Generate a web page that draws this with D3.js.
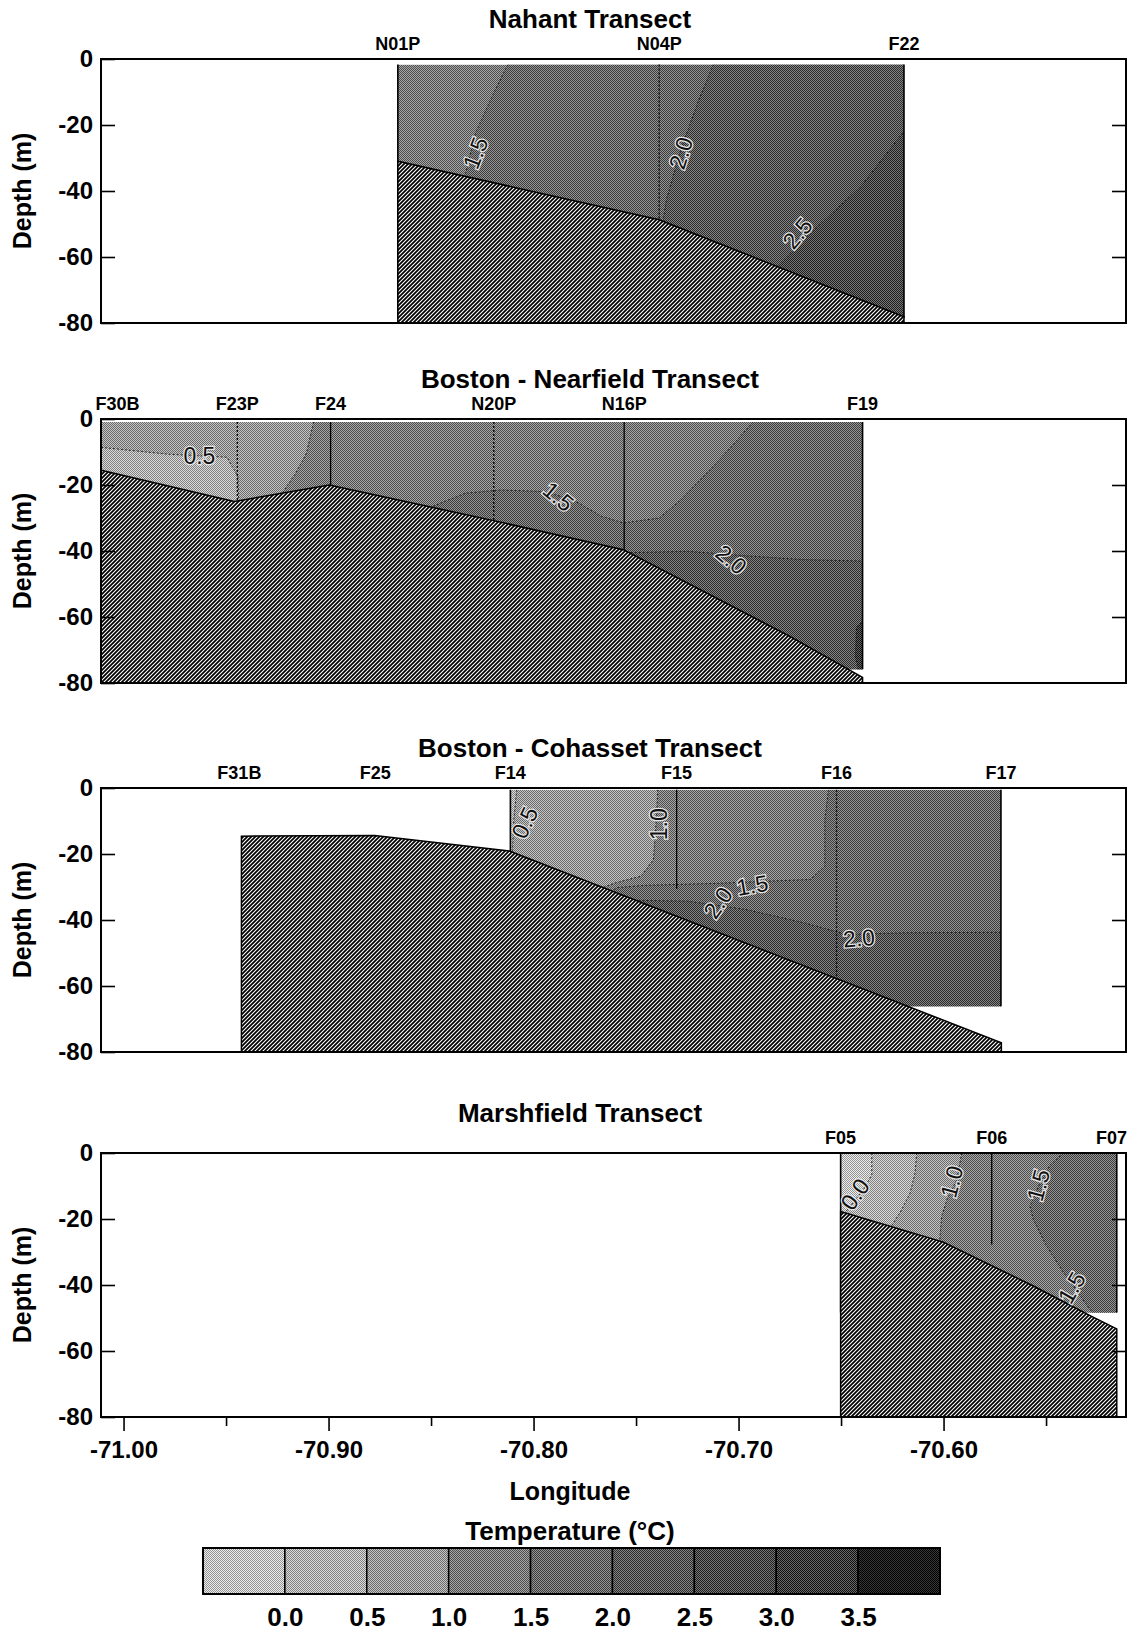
<!DOCTYPE html>
<html>
<head>
<meta charset="utf-8">
<script src="https://cdn.jsdelivr.net/npm/d3@7"></script>
<style>
  body { margin: 0; background: #fff; }
  svg { display: block; font-family: "Liberation Sans", Arial, sans-serif; }
</style>
</head>
<body>
<svg id="chart" width="1128" height="1633"></svg>
<script>
// ---- values ----
const lonTicks = [-71.0, -70.9, -70.8, -70.7, -70.6];
const lonMinorTicks = [-70.95, -70.85, -70.75, -70.65, -70.55];
const depthTicks = [0, -20, -40, -60, -80];
const tempBreaks = [0.0, 0.5, 1.0, 1.5, 2.0, 2.5, 3.0, 3.5];

const transectTitles = ['Nahant Transect', 'Boston - Nearfield Transect', 'Boston - Cohasset Transect', 'Marshfield Transect'];
// temperature of the water not split off by any contour
const baseTemps = [1.25, 0.75, 0.75, -0.25];

// stations: name, longitude, depth of the drawn profile line (null = none)
const nahantStations = [['N01P', -70.8662, null], ['N04P', -70.7387, -49.0], ['F22', -70.6193, null]];
const nearfieldStations = [['F30B', -71.003, null], ['F23P', -70.9445, -25.0], ['F24', -70.899, -24.0],
  ['N20P', -70.8194, -31.0], ['N16P', -70.7558, -40.0], ['F19', -70.6395, null]];
const cohassetStations = [['F31B', -70.9435, null], ['F25', -70.8772, null], ['F14', -70.8113, null],
  ['F15', -70.7302, -30.6], ['F16', -70.6522, -59.0], ['F17', -70.5720, null]];
const marshfieldStations = [['F05', -70.6502, null], ['F06', -70.5765, -27.7], ['F07', -70.5155, null]];

// sampled water: lon min, lon max, top depth, bottom depth
const nahantExtent = [-70.8662, -70.6193, -1.7, -78.5];
const nearfieldExtent = [-71.011, -70.6395, -0.9, -75.8];
const cohassetExtent = [-70.8113, -70.5720, -0.5, -66.1];
const marshfieldExtent = [-70.6502, -70.5155, 0, -48.3];

// sea floor profile [lon, depth]
const nahantBathy = [[-70.8662, -31.0], [-70.7387, -48.7], [-70.6193, -78.1]];
const nearfieldBathy = [[-71.011, -15.5], [-70.9460, -25.0], [-70.8996, -20.0], [-70.8195, -30.8],
  [-70.7562, -39.6], [-70.6754, -65.7], [-70.6395, -78.3]];
const cohassetBathy = [[-70.9425, -14.6], [-70.8775, -14.4], [-70.8118, -19.1], [-70.5718, -77.2]];
const marshfieldBathy = [[-70.6502, -17.7], [-70.6001, -27.0], [-70.5562, -40.3], [-70.5285, -49.3], [-70.5155, -53.3]];

// isotherms: level, side of the class it bounds, [lon, depth] points
const nahantContours = [
  [1.5, 'right', [[-70.8125, -1.7], [-70.8195, -10.3], [-70.8283, -22.4], [-70.8335, -35.6]]],
  [2.0, 'right', [[-70.7123, -1.7], [-70.7193, -12.3], [-70.7282, -27.5], [-70.7352, -42.7], [-70.7369, -49.3]]],
  [2.5, 'right', [[-70.6199, -22.4], [-70.6403, -38.6], [-70.6614, -50.8], [-70.6807, -62.9]]]
];
const nearfieldContours = [
  [0.5, 'left', [[-71.011, -8.6], [-70.9776, -10.7], [-70.9495, -11.6], [-70.9442, -17.5], [-70.9438, -25.5]]],
  [1.0, 'right', [[-70.9073, -0.9], [-70.9108, -10.4], [-70.9161, -16.5], [-70.9232, -23.0]]],
  [1.5, 'right', [[-70.6930, -0.9], [-70.7035, -8.4], [-70.7141, -15.5], [-70.7281, -24.5], [-70.7387, -30.0],
    [-70.7562, -31.5], [-70.7668, -29.5], [-70.7808, -24.5], [-70.7949, -22.0], [-70.8160, -21.5],
    [-70.8335, -22.5], [-70.8511, -27.0]]],
  [2.0, 'below', [[-70.7545, -40.5], [-70.7246, -40.1], [-70.6930, -41.6], [-70.6684, -42.6], [-70.6368, -43.1]]],
  [3.0, 'closed', [[-70.6385, -61.0], [-70.6425, -63.0], [-70.6430, -72.0], [-70.6415, -76.5], [-70.6385, -76.5]]]
];
const cohassetContours = [
  [0.5, 'left', [[-70.8082, -0.5], [-70.8096, -9.5], [-70.8103, -18.6], [-70.8105, -20.5]]],
  [1.0, 'right', [[-70.7394, -0.5], [-70.7401, -9.5], [-70.7415, -21.7], [-70.7475, -26.7], [-70.7598, -28.7], [-70.7680, -30.5]]],
  [1.5, 'right', [[-70.6561, -0.5], [-70.6579, -9.5], [-70.6579, -23.7], [-70.6649, -27.7], [-70.7106, -28.9],
    [-70.7457, -29.5], [-70.7598, -30.2], [-70.7615, -31.3]]],
  [2.0, 'below', [[-70.7527, -34.0], [-70.7246, -34.3], [-70.6965, -36.8], [-70.6684, -40.8], [-70.6473, -44.4],
    [-70.6192, -43.9], [-70.5700, -43.7]]]
];
const marshfieldContours = [
  [0.0, 'right', [[-70.6350, 0], [-70.6350, -6.6], [-70.6391, -11.1], [-70.6456, -16.2], [-70.6489, -18.7]]],
  [0.5, 'right', [[-70.6131, 0], [-70.6139, -6.1], [-70.6163, -12.1], [-70.6204, -17.2], [-70.6261, -22.8]]],
  [1.0, 'right', [[-70.5911, 0], [-70.5936, -8.1], [-70.5984, -14.2], [-70.6009, -19.2], [-70.6020, -27.5]]],
  [1.5, 'right', [[-70.5415, 0], [-70.5480, -3.6], [-70.5537, -10.1], [-70.5578, -16.2], [-70.5562, -20.2],
    [-70.5497, -28.2], [-70.5415, -36.2], [-70.5367, -40.3], [-70.5310, -45.3], [-70.5269, -48.8]]]
];

// contour labels [text, lon, depth]
const nahantLabels = [['1.5', -70.8283, -28.5], ['2.0', -70.7281, -28.5], ['2.5', -70.6712, -52.8]];
const nearfieldLabels = [['0.5', -70.963, -11.3], ['1.5', -70.7879, -23.5], ['2.0', -70.7036, -42.6]];
const cohassetLabels = [['0.5', -70.8043, -10.5], ['1.0', -70.7387, -11.0], ['1.5', -70.6933, -29.5],
  ['2.0', -70.7100, -34.8], ['2.0', -70.6413, -45.5]];
const marshfieldLabels = [['0.0', -70.6432, -12.5], ['1.0', -70.5960, -8.7], ['1.5', -70.5537, -9.8], ['1.5', -70.5375, -40.8]];

// ---- layout / style ----
const plotLeft = 101, plotRight = 1126, plotH = 264;
const panelTops = [59, 419, 788, 1153];
const titleX = [590, 590, 590, 580];
const labelAngles = [[-69, -72, -50], [0, 40, 40], [-65, -90, -10, -55, -5], [-55, -75, -75, -60]];
const dottedStations = new Set(['N04P', 'F23P', 'N20P', 'F16']);
const classTone = [192, 174, 152, 122, 104, 88, 74, 60, 12];
const WEST = -71.2, EAST = -70.3, DEEP = -90;

const x = d3.scaleLinear().domain([-71.011, -70.511]).range([plotLeft, plotRight]);

const svg = d3.select('#chart');
const defs = svg.append('defs');

// halftone patterns for the temperature classes
const grey = v => d3.rgb(v, v, v).formatHex();
classTone.forEach((t, i) => {
  const lo = Math.max(0, t - 45), hi = Math.min(255, t + 45);
  const p = defs.append('pattern').attr('id', 'tc' + i)
    .attr('patternUnits', 'userSpaceOnUse').attr('width', 2).attr('height', 2);
  p.append('rect').attr('width', 2).attr('height', 2).attr('fill', grey(hi));
  p.append('rect').attr('width', 1).attr('height', 1).attr('fill', grey(lo));
  p.append('rect').attr('x', 1).attr('y', 1).attr('width', 1).attr('height', 1).attr('fill', grey(lo));
});

// diagonal hatch for the sea floor
const hatch = defs.append('pattern').attr('id', 'hatch')
  .attr('patternUnits', 'userSpaceOnUse').attr('width', 4).attr('height', 4);
hatch.append('rect').attr('width', 4).attr('height', 4).attr('fill', '#fff');
hatch.append('path').attr('d', 'M-1,1 L1,-1 M0,4 L4,0 M3,5 L5,3')
  .attr('stroke', '#000').attr('stroke-width', 1.75);

const transects = [
  { stations: nahantStations, extent: nahantExtent, bathy: nahantBathy, contours: nahantContours, labels: nahantLabels },
  { stations: nearfieldStations, extent: nearfieldExtent, bathy: nearfieldBathy, contours: nearfieldContours, labels: nearfieldLabels },
  { stations: cohassetStations, extent: cohassetExtent, bathy: cohassetBathy, contours: cohassetContours, labels: cohassetLabels },
  { stations: marshfieldStations, extent: marshfieldExtent, bathy: marshfieldBathy, contours: marshfieldContours, labels: marshfieldLabels }
];

transects.forEach((t, k) => {
  const top = panelTops[k];
  const y = d3.scaleLinear().domain([0, -80]).range([top, top + plotH]);
  const line = d3.line().x(d => x(d[0])).y(d => y(d[1]));
  const g = svg.append('g');

  // title
  g.append('text').attr('x', titleX[k]).attr('y', top - 31)
    .attr('text-anchor', 'middle').attr('font-size', 26).attr('font-weight', 'bold')
    .text(transectTitles[k]);

  // water column, clipped to where it was sampled
  const [lon0, lon1, d0, d1] = t.extent;
  defs.append('clipPath').attr('id', 'clip' + k).append('rect')
    .attr('x', x(lon0)).attr('y', y(d0))
    .attr('width', x(lon1) - x(lon0)).attr('height', y(d1) - y(d0));
  const water = g.append('g').attr('clip-path', `url(#clip${k})`);

  water.append('rect')
    .attr('x', x(lon0)).attr('y', y(d0))
    .attr('width', x(lon1) - x(lon0)).attr('height', y(d1) - y(d0))
    .attr('fill', `url(#tc${d3.bisectRight(tempBreaks, baseTemps[k])})`);

  t.contours.forEach(([level, side, pts]) => {
    const f = pts[0], l = pts[pts.length - 1];
    let poly = pts;
    if (side === 'right') poly = pts.concat([[l[0], DEEP], [EAST, DEEP], [EAST, f[1]]]);
    if (side === 'left') poly = pts.concat([[l[0], DEEP], [WEST, DEEP], [WEST, f[1]]]);
    if (side === 'below') poly = pts.concat([[EAST, l[1]], [EAST, DEEP], [f[0], DEEP]]);
    const idx = tempBreaks.indexOf(level);
    const cls = side === 'left' ? idx : idx + 1;
    water.append('path').attr('d', line(poly) + 'Z').attr('fill', `url(#tc${cls})`);
  });

  t.contours.forEach(([level, side, pts]) => {
    water.append('path').attr('d', line(pts) + (side === 'closed' ? 'Z' : ''))
      .attr('fill', 'none').attr('stroke', '#1a1a1a').attr('stroke-width', 0.9)
      .attr('stroke-dasharray', '2,2');
  });

  // station profile lines
  t.stations.filter(s => s[2] !== null).forEach(s => {
    g.append('line')
      .attr('x1', x(s[1])).attr('x2', x(s[1]))
      .attr('y1', y(d0)).attr('y2', y(s[2]))
      .attr('stroke', '#000').attr('stroke-width', 1.3)
      .attr('stroke-dasharray', dottedStations.has(s[0]) ? '2,2' : null);
  });

  // edges of the sampled water
  g.append('path')
    .attr('d', line([[lon0, d1], [lon0, d0]]) + line([[lon1, d0], [lon1, d1]]))
    .attr('stroke', '#000').attr('stroke-width', 1.6).attr('fill', 'none');

  // sea floor
  const b = t.bathy;
  const floor = [[b[0][0], -80]].concat(b, [[b[b.length - 1][0], -80]]);
  g.append('path').attr('d', line(floor) + 'Z')
    .attr('fill', 'url(#hatch)').attr('stroke', '#000').attr('stroke-width', 1.5);

  // contour labels
  t.labels.forEach((d, i) => {
    g.append('text')
      .attr('transform', `translate(${x(d[1])},${y(d[2])}) rotate(${labelAngles[k][i]})`)
      .attr('text-anchor', 'middle').attr('dy', '0.35em')
      .attr('font-size', 23).attr('fill', '#111')
      .attr('stroke', '#e6e6e6').attr('stroke-width', 2.5).attr('paint-order', 'stroke')
      .text(d[0]);
  });

  // station names
  t.stations.forEach(s => {
    const txt = g.append('text').attr('x', x(s[1])).attr('y', top - 9)
      .attr('text-anchor', 'middle').attr('font-size', 18).attr('font-weight', 'bold')
      .text(s[0]);
    const w = txt.node().getComputedTextLength();
    if (x(s[1]) + w / 2 > 1127) txt.attr('x', 1127).attr('text-anchor', 'end');
  });

  // frame and axes
  g.append('rect').attr('x', plotLeft).attr('y', top)
    .attr('width', plotRight - plotLeft).attr('height', plotH)
    .attr('fill', 'none').attr('stroke', '#000').attr('stroke-width', 2);

  const yl = g.append('g').attr('transform', `translate(${plotLeft},0)`)
    .call(d3.axisLeft(y).tickValues(depthTicks).tickSize(-14).tickPadding(8).tickFormat(d => String(d)));
  const yr = g.append('g').attr('transform', `translate(${plotRight},0)`)
    .call(d3.axisRight(y).tickValues(depthTicks.slice(1, -1)).tickSize(-14).tickFormat(''));
  [yl, yr].forEach(a => {
    a.select('.domain').remove();
    a.selectAll('.tick line').attr('stroke', '#000').attr('stroke-width', 1.6);
    a.selectAll('.tick text').attr('font-size', 24).attr('font-weight', 'bold')
      .attr('fill', '#000').attr('font-family', '"Liberation Sans", Arial, sans-serif');
  });

  g.append('text')
    .attr('transform', `translate(31,${top + plotH / 2}) rotate(-90)`)
    .attr('text-anchor', 'middle').attr('font-size', 25).attr('font-weight', 'bold')
    .text('Depth (m)');

  if (k === transects.length - 1) {
    const xb = g.append('g').attr('transform', `translate(0,${top + plotH})`)
      .call(d3.axisBottom(x).tickValues(lonTicks).tickSize(14).tickPadding(10).tickFormat(d => d.toFixed(2)));
    const xm = g.append('g').attr('transform', `translate(0,${top + plotH})`)
      .call(d3.axisBottom(x).tickValues(lonMinorTicks).tickSize(9).tickFormat(''));
    [xb, xm].forEach(a => {
      a.select('.domain').remove();
      a.selectAll('.tick line').attr('stroke', '#000').attr('stroke-width', 1.6);
      a.selectAll('.tick text').attr('font-size', 24).attr('font-weight', 'bold')
        .attr('fill', '#000').attr('font-family', '"Liberation Sans", Arial, sans-serif');
    });
  }
});

// axis title and legend
svg.append('text').attr('x', 570).attr('y', 1500).attr('text-anchor', 'middle')
  .attr('font-size', 25).attr('font-weight', 'bold').text('Longitude');
svg.append('text').attr('x', 570).attr('y', 1540).attr('text-anchor', 'middle')
  .attr('font-size', 26).attr('font-weight', 'bold').text('Temperature (°C)');

const legendEdges = [-0.5].concat(tempBreaks, [4.0]);
const lg = d3.scaleLinear().domain([-0.5, 4.0]).range([203, 940]);
const legendTop = 1548, legendH = 46;
const legend = svg.append('g');
legend.selectAll('rect.cls').data(d3.range(legendEdges.length - 1)).join('rect')
  .attr('class', 'cls')
  .attr('x', i => lg(legendEdges[i])).attr('y', legendTop)
  .attr('width', i => lg(legendEdges[i + 1]) - lg(legendEdges[i])).attr('height', legendH)
  .attr('fill', i => `url(#tc${i})`).attr('stroke', '#000').attr('stroke-width', 1.5);
legend.append('rect').attr('x', lg(-0.5)).attr('y', legendTop)
  .attr('width', lg(4.0) - lg(-0.5)).attr('height', legendH)
  .attr('fill', 'none').attr('stroke', '#000').attr('stroke-width', 2);
const la = legend.append('g').attr('transform', `translate(0,${legendTop + legendH})`)
  .call(d3.axisBottom(lg).tickValues(tempBreaks).tickSize(0).tickPadding(14).tickFormat(d => d.toFixed(1)));
la.select('.domain').remove();
la.selectAll('.tick text').attr('font-size', 26).attr('font-weight', 'bold')
  .attr('fill', '#000').attr('font-family', '"Liberation Sans", Arial, sans-serif');
</script>
</body>
</html>
